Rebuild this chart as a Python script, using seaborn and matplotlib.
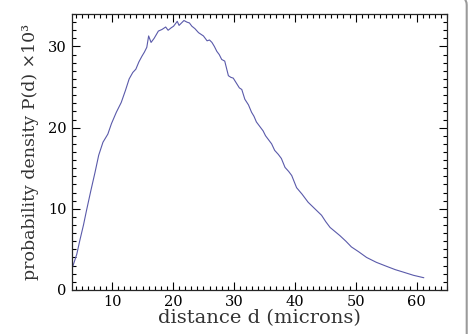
#distance distribution plot
import numpy as np
import pandas as pd
import matplotlib.pyplot as plt
import seaborn as sns
from matplotlib.patches import FancyBboxPatch
from matplotlib.ticker import MultipleLocator

#values
distance = [3.5, 4.2, 4.7, 5.3, 5.8, 6.5, 7.2, 7.8, 8.5, 9.3, 9.9, 10.7, 11.5,
            12.2, 12.8, 13.4, 13.9, 14.4, 14.9, 15.3, 15.7, 16.0, 16.4, 16.9,
            17.6, 18.2, 18.8, 19.2, 19.7, 20.1, 20.4, 20.7, 21.0, 21.4, 21.8,
            22.3, 22.7, 23.1, 23.6, 24.2, 24.6, 25.0, 25.6, 26.0, 26.4, 26.8,
            27.2, 27.6, 28.0, 28.5, 29.1, 29.5, 29.9, 30.4, 30.9, 31.3, 31.8,
            32.4, 32.9, 33.3, 33.7, 34.2, 34.8, 35.2, 35.6, 36.2, 36.7, 37.3,
            37.8, 38.4, 39.0, 39.5, 40.3, 41.2, 42.2, 43.3, 44.4, 45.1, 45.8,
            46.6, 47.4, 48.4, 49.3, 50.5, 51.8, 53.4, 55.1, 56.5, 57.8, 59.5,
            61.2]
density = [2.8, 4.4, 6.1, 8.0, 9.8, 12.2, 14.5, 16.6, 18.2, 19.2, 20.5, 21.9,
           23.1, 24.6, 26.0, 26.8, 27.2, 28.1, 28.8, 29.3, 29.9, 31.3, 30.5,
           31.0, 31.9, 32.1, 32.4, 32.0, 32.3, 32.5, 32.8, 33.1, 32.6, 32.9,
           33.2, 33.0, 32.9, 32.5, 32.2, 31.7, 31.5, 31.3, 30.7, 30.8, 30.5,
           30.0, 29.4, 29.0, 28.4, 28.2, 26.4, 26.2, 26.1, 25.5, 24.9, 24.7,
           23.5, 22.8, 21.9, 21.4, 20.7, 20.2, 19.6, 19.0, 18.6, 18.0, 17.2,
           16.7, 16.2, 15.1, 14.6, 14.1, 12.6, 11.8, 10.8, 10.0, 9.2, 8.4,
           7.7, 7.2, 6.7, 6.0, 5.3, 4.7, 4.0, 3.4, 2.9, 2.5, 2.2, 1.8, 1.5]

df = pd.DataFrame({"d": distance, "P": density})

sns.set_style("ticks")
plt.rcParams['font.family'] = ['DejaVu Serif']

fig = plt.figure(figsize=(4.7, 3.34), dpi=100)
ax = fig.add_axes([0.153, 0.132, 0.798, 0.826])

sns.lineplot(data=df, x="d", y="P", ax=ax, color="#5a5aaa", linewidth=0.8)

ax.set_xlim(3.4, 65)
ax.set_ylim(0, 34)
ax.xaxis.set_major_locator(MultipleLocator(10))
ax.xaxis.set_minor_locator(MultipleLocator(1))
ax.yaxis.set_major_locator(MultipleLocator(10))
ax.yaxis.set_minor_locator(MultipleLocator(1))
ax.tick_params(which="both", direction="in", top=True, right=True,
               colors="black", width=0.8)
ax.tick_params(which="major", length=6, labelsize=10.5, pad=4)
ax.tick_params(which="minor", length=3)
for s in ax.spines.values():
    s.set_linewidth(0.9)

ax.set_xlabel("distance d (microns)", fontsize=14, labelpad=0, color="#333333")
ax.set_ylabel("probability density P(d) ×10³", fontsize=12.5, labelpad=6,
              color="#333333")

#grey frame edge on the right of the picture
frame = FancyBboxPatch((-0.2, -0.2), 0.2 + 0.993, 1.215,
                       boxstyle="round,pad=0,rounding_size=0.03",
                       transform=fig.transFigure, fill=False,
                       edgecolor="#9a9a9a", linewidth=1.5, clip_on=False)
fig.patches.append(frame)

fig.savefig("out.png", dpi=100)
